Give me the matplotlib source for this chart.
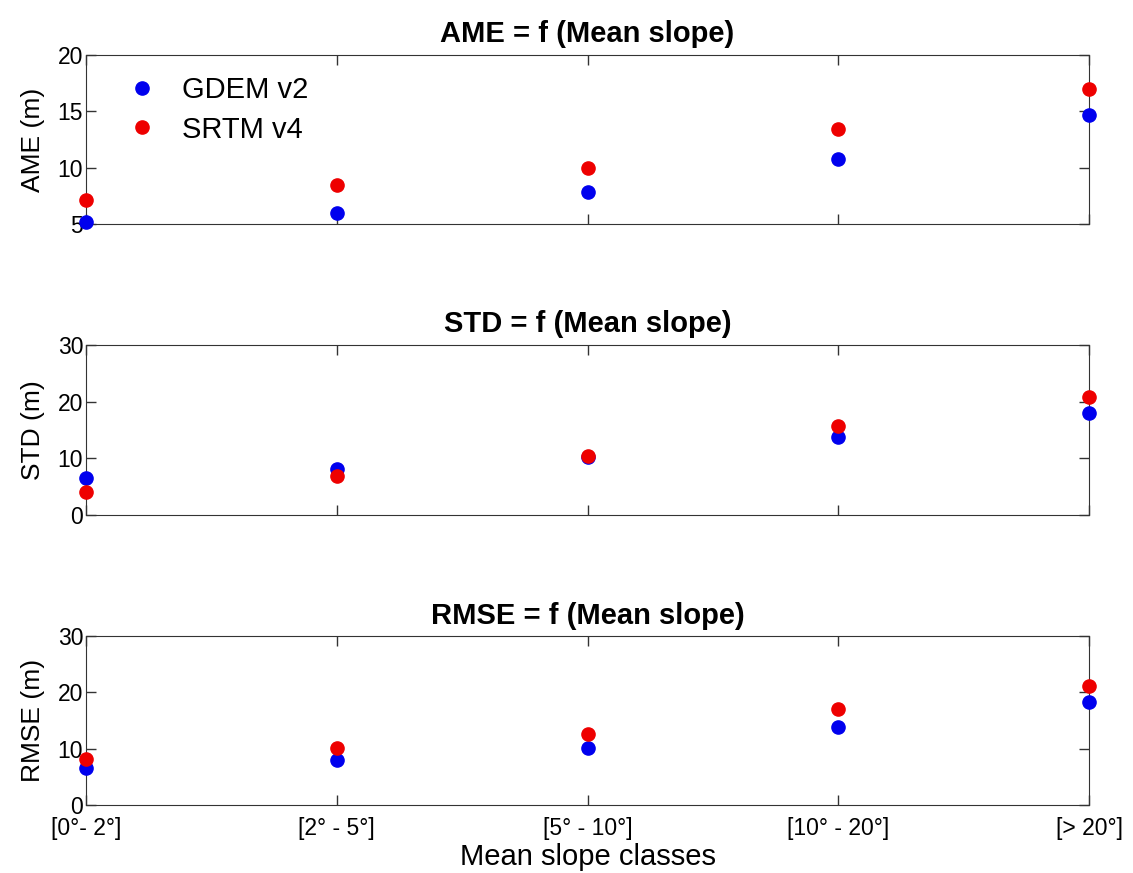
import numpy as np
import matplotlib
matplotlib.use("Agg")
import matplotlib.pyplot as plt

plt.rcParams['font.family'] = ['Liberation Sans', 'DejaVu Sans']

classes = ['[0°- 2°]', '[2° - 5°]', '[5° - 10°]', '[10° - 20°]', '[> 20°]']
series = ['GDEM v2', 'SRTM v4']
colors = ['#0000ee', '#ee0000']

ame_gdem = [5.2, 6.0, 7.8, 10.8, 14.7]
ame_srtm = [7.1, 8.5, 10.0, 13.4, 17.0]
std_gdem = [6.6, 8.2, 10.2, 13.8, 18.0]
std_srtm = [4.1, 6.9, 10.5, 15.7, 20.9]
rmse_gdem = [6.6, 8.0, 10.2, 13.9, 18.3]
rmse_srtm = [8.2, 10.2, 12.6, 17.0, 21.2]

panels = [
    ('AME = f (Mean slope)', 'AME (m)', ame_gdem, ame_srtm, (5, 20), [5, 10, 15, 20]),
    ('STD = f (Mean slope)', 'STD (m)', std_gdem, std_srtm, (0, 30), [0, 10, 20, 30]),
    ('RMSE = f (Mean slope)', 'RMSE (m)', rmse_gdem, rmse_srtm, (0, 30), [0, 10, 20, 30]),
]

fig = plt.figure(figsize=(11.33, 8.73), dpi=100)
W, H = 1133, 873
left, right = 86, 1089
tops = [55, 345, 636]
bottoms = [224, 515, 805]

x = np.arange(len(classes))
for i, (title, ylab, g, s, ylim, yt) in enumerate(panels):
    ax = fig.add_axes([left / W, 1 - bottoms[i] / H, (right - left) / W, (bottoms[i] - tops[i]) / H])
    ax.plot(x, g, 'o', color=colors[0], markersize=9.5, clip_on=False, label=series[0], zorder=3)
    ax.plot(x, s, 'o', color=colors[1], markersize=9.5, clip_on=False, label=series[1], zorder=3)
    ax.set_xlim(0, 4)
    ax.set_ylim(*ylim)
    ax.set_yticks(yt)
    ax.set_xticks(x)
    ax.tick_params(direction='in', top=True, right=True, length=7, width=1,
                   labelsize=16.5, color='#333333', pad=2)
    if i == 2:
        ax.set_xticklabels(classes, fontsize=16.5)
        ax.tick_params(axis='x', pad=9)
        ax.set_xlabel('Mean slope classes', fontsize=21, labelpad=2)
    else:
        ax.set_xticklabels([])
    ax.set_ylabel(ylab, fontsize=19, labelpad=9)
    ax.set_title(title, fontsize=21, fontweight='bold', pad=9)
    for sp in ax.spines.values():
        sp.set_color('#333333')
    if i == 0:
        ax.legend(loc='upper left', frameon=False, fontsize=21, handletextpad=0.88,
                  handlelength=1.0, bbox_to_anchor=(0.015, 1.03), labelspacing=0.39)

fig.savefig('out.png', dpi=100)
